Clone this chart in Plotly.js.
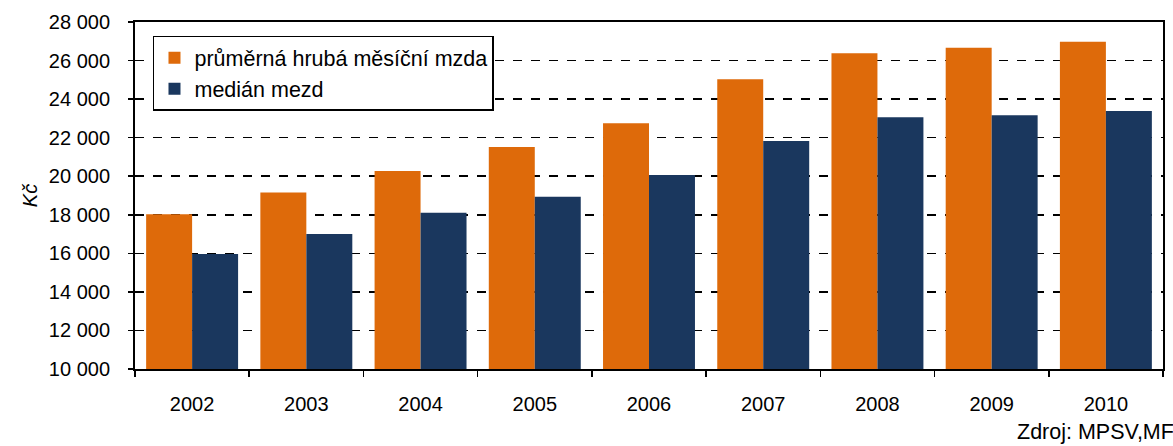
<!DOCTYPE html>
<html>
<head>
<meta charset="utf-8">
<script src="https://cdn.plot.ly/plotly-3.0.1.min.js"></script>
<style>html,body{margin:0;padding:0;background:#fff;}#chart{width:1173px;height:446px;}</style>
</head>
<body>
<div id="chart"></div>
<script>
const years = ['2002','2003','2004','2005','2006','2007','2008','2009','2010'];
const averageWage = [18030, 19150, 20270, 21520, 22750, 25030, 26380, 26670, 26980];
const medianWage = [15970, 17000, 18110, 18940, 20060, 21830, 23060, 23160, 23380];
const seriesNames = ['průměrná hrubá měsíční mzda', 'medián mezd'];
const yTickValues = [10000, 12000, 14000, 16000, 18000, 20000, 22000, 24000, 26000, 28000];

const font = 'Liberation Sans, Arial, sans-serif';
const data = [
  {type:'bar', x: years, y: averageWage, name: seriesNames[0], marker:{color:'#DE6A0A'}},
  {type:'bar', x: years, y: medianWage, name: seriesNames[1], marker:{color:'#1A375E'}}
];
const layout = {
  width:1173, height:446,
  margin:{l:135, r:10, t:22, b:77},
  paper_bgcolor:'#fff', plot_bgcolor:'#fff',
  font:{family:font, size:20, color:'#000'},
  separators:', ',
  barmode:'group', bargap:0.195, bargroupgap:0,
  showlegend:true,
  legend:{x:0.0175, y:0.96, xanchor:'left', yanchor:'top', bgcolor:'#fff', bordercolor:'#000', borderwidth:1.5,
          font:{family:font, size:21.5, color:'#000'}, traceorder:'normal'},
  xaxis:{type:'category', tickson:'boundaries', ticks:'outside', ticklen:6, tickwidth:1.5, tickcolor:'#000',
         showline:true, linecolor:'#000', linewidth:2, mirror:true, showgrid:false, ticklabelstandoff:16,
         tickfont:{family:font, size:20, color:'#000'}},
  yaxis:{range:[10000,28000], tickvals:yTickValues, tickformat:',d', ticks:'outside', ticklen:5, tickwidth:1.5, tickcolor:'#000',
         showline:true, linecolor:'#000', linewidth:2, mirror:true, showgrid:true, gridcolor:'#000', gridwidth:1.5, griddash:'dash',
         zeroline:false, ticklabelstandoff:14, tickfont:{family:font, size:20, color:'#000'},
         title:{text:'<i>Kč</i>', font:{family:font, size:20, color:'#000'}, standoff:6}},
  annotations:[{text:'Zdroj: MPSV,MF', xref:'paper', yref:'paper', x:1, y:0, xanchor:'right', yanchor:'top',
                xshift:13, yshift:-49, showarrow:false, font:{family:font, size:21.5, color:'#000'}}]
};
Plotly.newPlot('chart', data, layout, {displayModeBar:false, staticPlot:true});
</script>
</body>
</html>
